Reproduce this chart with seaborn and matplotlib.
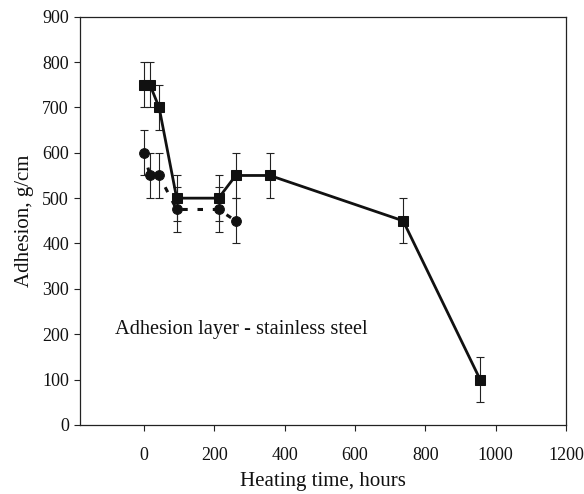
import matplotlib
matplotlib.use("Agg")
import matplotlib.pyplot as plt
import seaborn as sns
import pandas as pd

sns.set_theme(style="white")
plt.rcParams['font.family'] = ['Liberation Serif', 'DejaVu Serif']

# data
sq_hours = [0, 17, 43, 93, 212, 261, 358, 737, 956]
sq_adhesion = [750, 750, 700, 500, 500, 550, 550, 450, 100]
sq_err = [50, 50, 50, 50, 50, 50, 50, 50, 50]

ci_hours = [0, 17, 43, 93, 212, 261]
ci_adhesion = [600, 550, 550, 475, 475, 450]
ci_err = [50, 50, 50, 50, 50, 50]

x_ticks = [0, 200, 400, 600, 800, 1000, 1200]
y_ticks = [0, 100, 200, 300, 400, 500, 600, 700, 800, 900]

fig = plt.figure(figsize=(5.84, 4.94), dpi=100)
ax = fig.add_axes([0.137, 0.14, 0.832, 0.826])

df_sq = pd.DataFrame({"h": sq_hours, "a": sq_adhesion})
df_ci = pd.DataFrame({"h": ci_hours, "a": ci_adhesion})

ax.errorbar(sq_hours, sq_adhesion, yerr=sq_err, fmt='none', ecolor='#222222',
            elinewidth=0.8, capsize=3, capthick=0.8, zorder=2)
ax.errorbar(ci_hours, ci_adhesion, yerr=ci_err, fmt='none', ecolor='#222222',
            elinewidth=0.8, capsize=3, capthick=0.8, zorder=2)

sns.lineplot(data=df_ci, x="h", y="a", ax=ax, color='#111111', linewidth=2.2,
             linestyle=(0, (1.8, 3.2)), marker='o', markersize=7,
             markeredgecolor='#111111', sort=False, zorder=3)
sns.lineplot(data=df_sq, x="h", y="a", ax=ax, color='#111111', linewidth=2.0,
             marker='s', markersize=7, markeredgecolor='#111111', sort=False,
             zorder=4)

ax.set_xlim(-182, 1200)
ax.set_ylim(0, 900)
ax.set_xticks(x_ticks)
ax.set_xticklabels([str(t) for t in x_ticks])
ax.set_yticks(y_ticks)
ax.set_yticklabels([str(t) for t in y_ticks])
ax.tick_params(axis='both', direction='out', length=4, width=0.8, color='#222222',
               labelsize=13, labelcolor='#111111', bottom=True, left=True, pad=4)
ax.tick_params(axis='x', pad=12)

for s in ax.spines.values():
    s.set_color('#222222')
    s.set_linewidth(0.9)

ax.set_xlabel("Heating time, hours", fontsize=15, color='#111111', labelpad=6)
ax.set_ylabel("Adhesion, g/cm", fontsize=15, color='#111111', labelpad=6)

ax.text(-83, 210, "Adhesion layer - stainless steel", fontsize=14.7,
        color='#111111', va='center', ha='left')

fig.savefig("out.png", dpi=100)
